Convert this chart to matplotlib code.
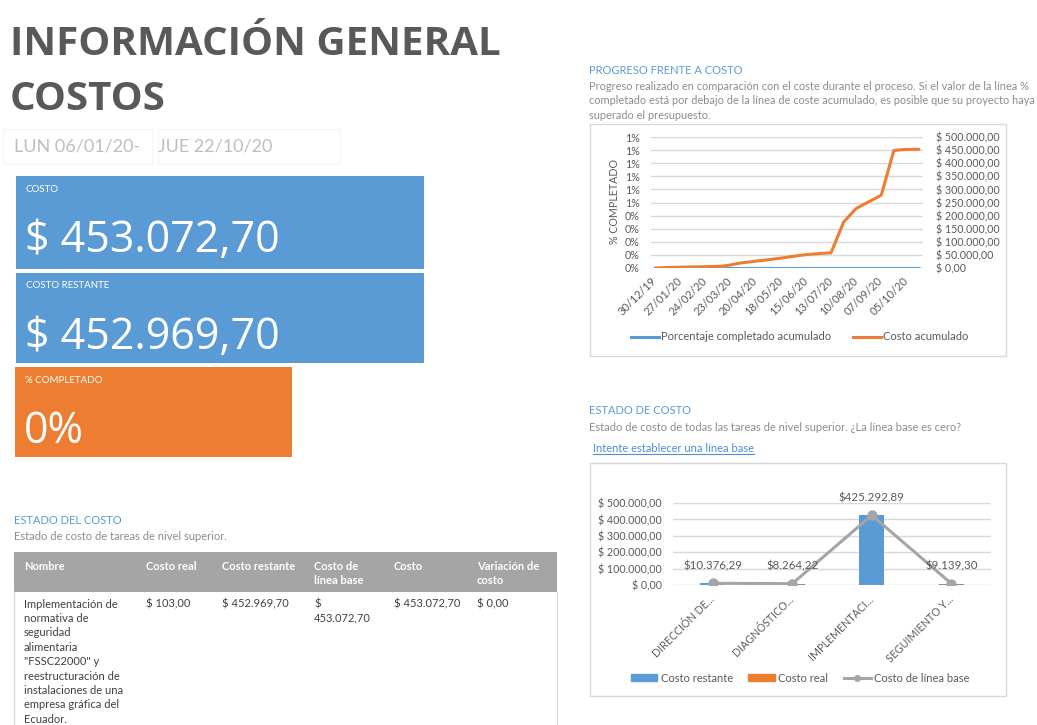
import textwrap
import numpy as np
import pandas as pd
import matplotlib
matplotlib.use('Agg')
import matplotlib.pyplot as plt
import matplotlib.ticker as mticker
from matplotlib.patches import Rectangle, Patch
from matplotlib.lines import Line2D

plt.rcParams['font.family'] = ['Lato', 'DejaVu Sans']

# colores tipo Office
AZUL = '#5B9BD5'
NARANJA = '#ED7D31'
GRIS = '#A5A5A5'
TEXTO = '#595959'
REJILLA = '#D9D9D9'

# ---- datos -----------------------------------------------------------------
fecha_inicio = 'LUN 06/01/20'
fecha_fin = 'JUE 22/10/20'
kpi_titulos = ['COSTO', 'COSTO RESTANTE', '% COMPLETADO']
costo_total = 453072.70
costo_restante = 452969.70
pct_completado = 0.0

# progreso semanal (lunes a lunes)
semanas = pd.date_range('2019-12-30', periods=43, freq='7D')
pct_acumulado = [0, 0, 0, 0, 0, 0, 0, 0, 0, 0,
                 0, 0, 0, 0, 0, 0, 0, 0, 0, 0,
                 0, 0, 0, 0, 0, 0, 0, 0, 0, 0,
                 0, 0, 0, 0, 0, 0, 0, 0, 0, 0,
                 0, 0, 0]
costo_acumulado = [0, 1000, 2000, 2500, 3000, 3500, 4000, 4500, 5000, 5500,
                   6000, 8000, 11500, 16500, 20500, 23000, 26000, 28500, 31500, 34500,
                   37500, 41000, 44500, 48000, 51000, 53000, 55000, 56500, 58000, 116000,
                   175000, 201000, 227000, 240000, 252500, 265000, 278000, 363000, 448500, 451000,
                   452500, 453072.70, 453072.70]

# estado de costo por tarea de nivel superior
tareas = ['DIRECCIÓN DE...', 'DIAGNÓSTICO...', 'IMPLEMENTACI...', 'SEGUIMIENTO Y...']
tarea_restante = [10273.29, 8264.22, 425292.89, 9139.30]
tarea_real = [103.00, 0.00, 0.00, 0.00]
tarea_linea_base = [10376.29, 8264.22, 425292.89, 9139.30]

# tabla
columnas = ['Nombre', 'Costo real', 'Costo restante', 'Costo de línea base', 'Costo', 'Variación de costo']
nombre_proyecto = ('Implementación de normativa de seguridad alimentaria "FSSC22000" y '
                   'reestructuración de instalaciones de una empresa gráfica del Ecuador.')
fila_valores = [103.00, 452969.70, 453072.70, 453072.70, 0.00]


def moneda(v, espacio=True):
    s = f'{v:,.2f}'.replace(',', '#').replace('.', ',').replace('#', '.')
    return ('$ ' if espacio else '$') + s


# ---- lienzo ----------------------------------------------------------------
W, H = 1037, 725
fig = plt.figure(figsize=(W / 100, H / 100), dpi=100)


def fx(x):
    return x / W


def fy(y):
    return 1 - y / H


def caja(x0, y0, x1, y1, **kw):
    r = Rectangle((fx(x0), fy(y1)), (x1 - x0) / W, (y1 - y0) / H,
                  transform=fig.transFigure, **kw)
    fig.add_artist(r)


def ejes(x0, y0, x1, y1):
    return fig.add_axes([fx(x0), fy(y1), (x1 - x0) / W, (y1 - y0) / H])


# encabezado
fig.text(fx(10), fy(55), 'INFORMACIÓN GENERAL', family='Open Sans', weight='bold',
         fontsize=29, color=TEXTO, va='baseline')
fig.text(fx(10), fy(110), 'COSTOS', family='Open Sans', weight='bold',
         fontsize=29, color=TEXTO, va='baseline')

caja(3, 129, 152, 164, fill=False, ec='#F5F5F5', lw=1)
caja(158, 129, 340, 164, fill=False, ec='#F5F5F5', lw=1)
fig.text(fx(14), fy(147), fecha_inicio + '-', fontsize=13, color='#BFBFBF', va='center')
fig.text(fx(158), fy(147), fecha_fin, fontsize=13, color='#BFBFBF', va='center')

# tarjetas KPI
tarjetas = [(16, 176, 424, 269, AZUL, moneda(costo_total)),
            (16, 273, 424, 363, AZUL, moneda(costo_restante)),
            (15, 367, 292, 457, NARANJA, f'{pct_completado:.0%}')]
for (x0, y0, x1, y1, col, valor), titulo in zip(tarjetas, kpi_titulos):
    caja(x0, y0, x1, y1, color=col, lw=0)
    fig.text(fx(x0 + 10), fy(y0 + 13), titulo, fontsize=7, color='white', va='center')
    fig.text(fx(x0 + 9), fy(y0 + 76), valor, family='Open Sans', fontsize=31,
             color='white', va='baseline')

# ---- tabla de estado del costo --------------------------------------------
fig.text(fx(14), fy(521), 'ESTADO DEL COSTO', fontsize=8, color=AZUL, va='center')
fig.text(fx(14), fy(537), 'Estado de costo de tareas de nivel superior.', fontsize=8,
         color='#8C8C8C', va='center')

col_x = [24, 146, 222, 314, 394, 477]
ancho_cab = [20, 12, 14, 12, 14, 12]
ancho_celda = [20, 12, 14, 9, 14, 12]
caja(14, 552, 557, 592, color=GRIS, lw=0)
fig.add_artist(Line2D([fx(14), fx(14)], [fy(592), fy(725)], transform=fig.transFigure,
                      color=REJILLA, lw=1))
fig.add_artist(Line2D([fx(557), fx(557)], [fy(592), fy(725)], transform=fig.transFigure,
                      color=REJILLA, lw=1))

celdas = [nombre_proyecto] + [moneda(v) for v in fila_valores]
for x, wc, wv, cab, celda in zip(col_x, ancho_cab, ancho_celda, columnas, celdas):
    for i, linea in enumerate(textwrap.wrap(cab, wc, break_long_words=False)):
        fig.text(fx(x), fy(566 + 14 * i), linea, fontsize=8, weight='bold',
                 color='white', va='center')
    for i, linea in enumerate(textwrap.wrap(celda, wv, break_long_words=False)):
        fig.text(fx(x), fy(604 + 14.4 * i), linea, fontsize=8, color='#404040',
                 va='center')

# ---- progreso frente a costo -----------------------------------------------
fig.text(fx(589), fy(71), 'PROGRESO FRENTE A COSTO', fontsize=8, color=AZUL, va='center')
desc1 = ['Progreso realizado en comparación con el coste durante el proceso. Si el valor de la línea %',
         'completado está por debajo de la línea de coste acumulado, es posible que su proyecto haya',
         'superado el presupuesto.']
for i, linea in enumerate(desc1):
    fig.text(fx(589), fy(86 + 14.6 * i), linea, fontsize=7.9, color='#8C8C8C', va='center')

caja(590, 124, 1006, 356, fill=False, ec=REJILLA, lw=1)
ax1 = ejes(651, 137, 923, 268)
ax1r = ax1.twinx()
ax1.plot(semanas, pct_acumulado, color=AZUL, lw=2.2, solid_capstyle='round')
ax1r.plot(semanas, costo_acumulado, color=NARANJA, lw=2.2, solid_capstyle='round')

margen = pd.Timedelta(days=4.5)
ax1.set_xlim(semanas[0] - margen, semanas[-1] + margen)
ax1.set_ylim(0, 0.01)
ax1.yaxis.set_major_locator(mticker.MultipleLocator(0.001))
ax1.yaxis.set_major_formatter(mticker.FuncFormatter(
    lambda v, p: f'{np.floor(v * 100 + 0.5 + 1e-9):.0f}%'))
ax1r.set_ylim(0, 500000)
ax1r.yaxis.set_major_locator(mticker.MultipleLocator(50000))
ax1r.yaxis.set_major_formatter(mticker.FuncFormatter(lambda v, p: moneda(v)))
ax1.set_xticks(semanas[::4])
ax1.set_xticklabels([d.strftime('%d/%m/%y') for d in semanas[::4]], rotation=45,
                    ha='right', va='center', rotation_mode='anchor')
ax1.grid(axis='y', color=REJILLA, lw=1)
ax1.set_axisbelow(True)
for a in (ax1, ax1r):
    for s in a.spines.values():
        s.set_visible(False)
    a.tick_params(length=0, labelsize=7.7, labelcolor=TEXTO)
ax1.tick_params(axis='x', labelsize=8, pad=8)
ax1.tick_params(axis='y', pad=8)
ax1r.tick_params(axis='y', pad=9)
fig.text(fx(614), fy(202), '% COMPLETADO', fontsize=7.7, color=TEXTO, rotation=90,
         ha='center', va='center')

fig.legend([Line2D([], [], color=AZUL, lw=2.2), Line2D([], [], color=NARANJA, lw=2.2)],
           ['Porcentaje completado acumulado', 'Costo acumulado'],
           loc='center', bbox_to_anchor=(fx(800), fy(337)), ncol=2, frameon=False,
           fontsize=8, handlelength=2.5, handletextpad=0.2, columnspacing=2.0,
           labelcolor=TEXTO)

# ---- estado de costo --------------------------------------------------------
fig.text(fx(589), fy(410), 'ESTADO DE COSTO', fontsize=8, color=AZUL, va='center')
fig.text(fx(589), fy(427), 'Estado de costo de todas las tareas de nivel superior. ¿La línea base es cero?',
         fontsize=8, color='#8C8C8C', va='center')
enlace = fig.text(fx(593), fy(448), 'Intente establecer una línea base', fontsize=8,
                  color='#4A8FD8', va='center')
bb = enlace.get_window_extent(renderer=fig.canvas.get_renderer())
fig.add_artist(Line2D([bb.x0 / W, bb.x1 / W], [fy(454), fy(454)],
                      transform=fig.transFigure, color='#4A8FD8', lw=0.8))

caja(590, 463, 1006, 696, fill=False, ec=REJILLA, lw=1)
ax2 = ejes(673, 503, 991, 585)
pos = np.arange(len(tareas))
ax2.bar(pos, tarea_restante, width=0.315, color=AZUL, zorder=2)
ax2.bar(pos, tarea_real, width=0.315, bottom=tarea_restante, color=NARANJA, zorder=2)
ax2.plot(pos, tarea_linea_base, color=GRIS, lw=2.2, marker='o', ms=6.5, zorder=3)
for p, v in zip(pos, tarea_linea_base):
    ax2.annotate(moneda(v, espacio=False), (p, v), xytext=(0, 12.5),
                 textcoords='offset points', ha='center', va='center',
                 fontsize=8.3, color=TEXTO, zorder=4)
ax2.set_xlim(-0.5, len(tareas) - 0.5)
ax2.set_ylim(0, 500000)
ax2.yaxis.set_major_locator(mticker.MultipleLocator(100000))
ax2.yaxis.set_major_formatter(mticker.FuncFormatter(lambda v, p: moneda(v)))
ax2.set_xticks(pos)
ax2.set_xticklabels(tareas, rotation=45, ha='right', va='center', rotation_mode='anchor')
ax2.grid(axis='y', color=REJILLA, lw=1, zorder=0)
ax2.set_axisbelow(True)
for s in ax2.spines.values():
    s.set_visible(False)
ax2.tick_params(length=0, labelsize=7.7, labelcolor=TEXTO)
ax2.tick_params(axis='y', pad=8)
ax2.tick_params(axis='x', pad=9)

fig.legend([Patch(color=AZUL), Patch(color=NARANJA),
            Line2D([], [], color=GRIS, lw=2.2, marker='o', ms=4)],
           ['Costo restante', 'Costo real', 'Costo de línea base'],
           loc='center', bbox_to_anchor=(fx(800), fy(678)), ncol=3, frameon=False,
           fontsize=8, handlelength=2.4, handleheight=0.6, handletextpad=0.3,
           columnspacing=1.4, labelcolor=TEXTO)

fig.savefig('out.png', dpi=100)
